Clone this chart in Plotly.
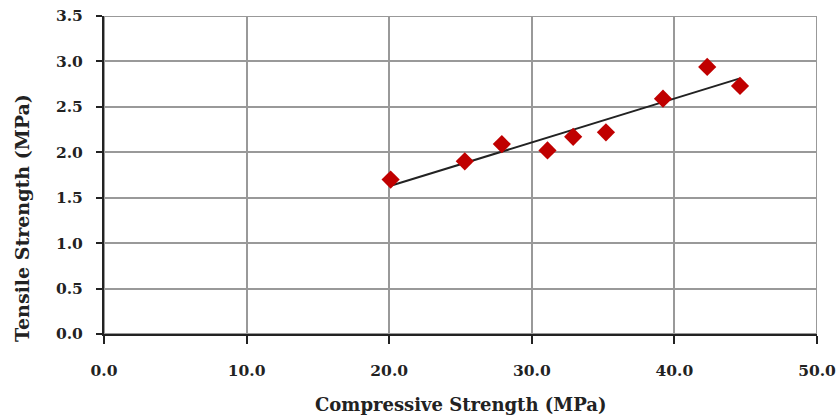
import numpy as np
import plotly.graph_objects as go

compressive = [20.1, 25.3, 27.9, 31.1, 32.9, 35.2, 39.2, 42.3, 44.6]
tensile = [1.70, 1.90, 2.09, 2.02, 2.17, 2.22, 2.59, 2.94, 2.73]

x_ticks = [0, 10, 20, 30, 40, 50]
y_ticks = [0, 0.5, 1.0, 1.5, 2.0, 2.5, 3.0, 3.5]

slope, intercept = np.polyfit(compressive, tensile, 1)
fit_x = [min(compressive), max(compressive)]
fit_y = [slope * v + intercept for v in fit_x]

fam = "DejaVu Serif"
tick_font = dict(family=fam, size=15.5, color="#222")

fig = go.Figure()
fig.add_trace(go.Scatter(x=fit_x, y=fit_y, mode="lines",
                         line=dict(color="#222", width=2), showlegend=False))
fig.add_trace(go.Scatter(x=compressive, y=tensile, mode="markers",
                         marker=dict(symbol="diamond", size=14, color="#C00000"),
                         showlegend=False))

fig.update_layout(
    width=838, height=419,
    margin=dict(l=104, r=21, t=16, b=85),
    paper_bgcolor="white", plot_bgcolor="white",
    xaxis=dict(range=[0, 50], tickvals=x_ticks,
               ticktext=[f"<b>{v:.1f}</b>" for v in x_ticks],
               tickfont=tick_font, automargin=False, ticklabeloverflow="allow",
               showgrid=True, gridcolor="#999", gridwidth=2,
               showline=True, linecolor="#222", linewidth=2,
               ticks="outside", ticklen=8, tickwidth=2, tickcolor="#222",
               ticklabelstandoff=13, zeroline=False),
    yaxis=dict(range=[0, 3.5], tickvals=y_ticks,
               ticktext=[f"<b>{v:.1f}</b>" for v in y_ticks],
               tickfont=tick_font, automargin=False, ticklabeloverflow="allow",
               showgrid=True, gridcolor="#999", gridwidth=2,
               showline=True, linecolor="#222", linewidth=2,
               ticks="outside", ticklen=6, tickwidth=2, tickcolor="#222",
               ticklabelstandoff=10, zeroline=False),
)
fig.add_shape(type="rect", xref="x", yref="y", x0=0, x1=50, y0=0, y1=3.5,
              line=dict(color="#999", width=2), layer="below")
fig.add_annotation(text="<b>Compressive Strength (MPa)</b>", xref="paper", yref="paper",
                   x=0.5, y=0, xanchor="center", yanchor="middle", yshift=-70,
                   showarrow=False, font=dict(family=fam, size=18, color="#222"))
fig.add_annotation(text="<b>Tensile Strength (MPa)</b>", xref="paper", yref="paper",
                   x=0, y=0.365, xanchor="center", yanchor="middle", xshift=-82,
                   textangle=-90, showarrow=False, font=dict(family=fam, size=19, color="#222"))

fig.write_html("out.html", config={"displayModeBar": False},
               post_script="document.body.style.margin='0';document.body.style.overflow='hidden';")
